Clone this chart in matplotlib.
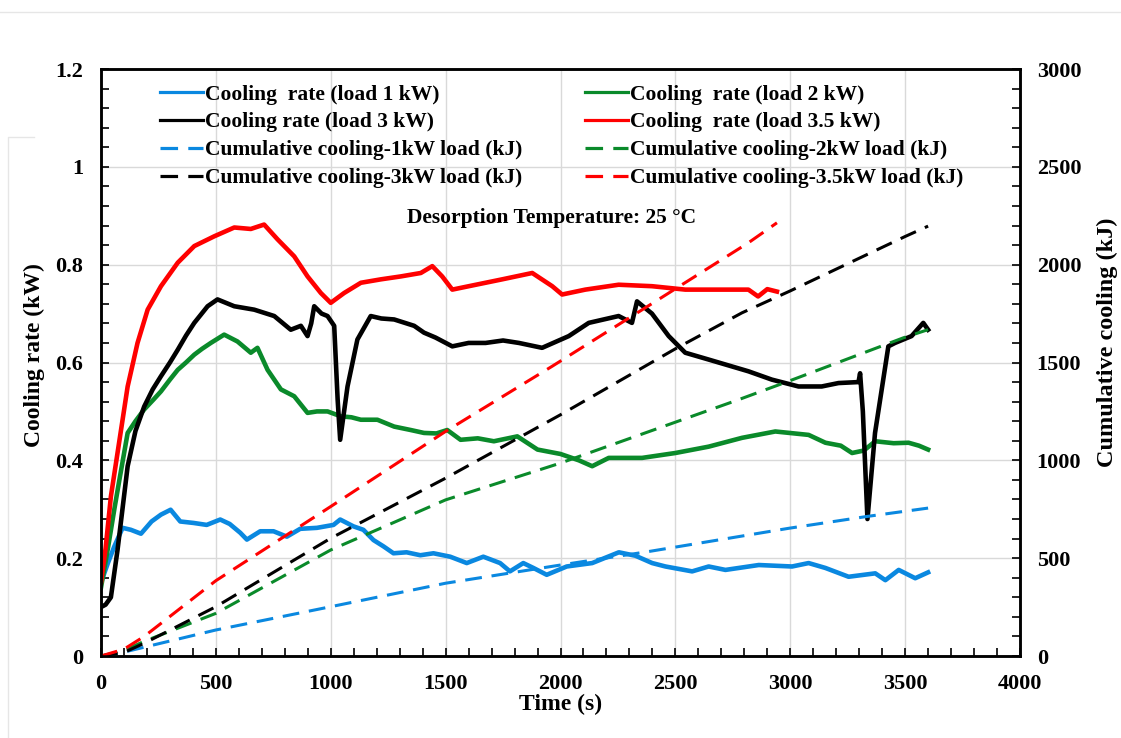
import numpy as np
import matplotlib
matplotlib.use("Agg")
import matplotlib.pyplot as plt
from matplotlib.ticker import MultipleLocator, FormatStrFormatter
from matplotlib.lines import Line2D

plt.rcParams['font.family'] = ['Liberation Serif', 'DejaVu Serif']
plt.rcParams['font.weight'] = 'bold'

# cooling rate, load 1 kW (time s, kW)
t_1kw = [0, 30, 58, 94, 130, 174, 220, 261, 303, 345, 403, 460, 519, 560, 606, 635, 693,
         751, 809, 867, 940, 1012, 1041, 1099, 1142, 1186, 1230, 1273, 1330, 1390, 1447,
         1520, 1592, 1664, 1737, 1780, 1838, 1882, 1940, 2027, 2138, 2254, 2326, 2399,
         2457, 2573, 2645, 2718, 2863, 3008, 3080, 3153, 3254, 3370, 3414, 3472, 3544, 3600]
q_1kw = [0.15, 0.19, 0.224, 0.262, 0.258, 0.25, 0.275, 0.289, 0.299, 0.275, 0.272, 0.268,
         0.279, 0.27, 0.252, 0.238, 0.255, 0.255, 0.244, 0.26, 0.262, 0.268, 0.279, 0.265,
         0.258, 0.237, 0.224, 0.21, 0.212, 0.206, 0.21, 0.203, 0.19, 0.203, 0.19, 0.173,
         0.19, 0.18, 0.166, 0.183, 0.19, 0.212, 0.205, 0.19, 0.183, 0.173, 0.183, 0.176,
         0.186, 0.183, 0.19, 0.18, 0.162, 0.169, 0.155, 0.176, 0.159, 0.171]

# cooling rate, load 2 kW
t_2kw = [0, 30, 58, 80, 116, 150, 188, 230, 261, 300, 334, 370, 406, 440, 478, 536, 594,
         652, 681, 725, 783, 841, 899, 940, 986, 1044, 1090, 1131, 1203, 1276, 1348, 1406,
         1460, 1507, 1565, 1640, 1710, 1812, 1900, 2000, 2080, 2138, 2210, 2355, 2500,
         2645, 2790, 2935, 3080, 3153, 3220, 3269, 3320, 3370, 3450, 3515, 3560, 3600]
q_2kw = [0.14, 0.22, 0.30, 0.36, 0.456, 0.48, 0.504, 0.525, 0.541, 0.565, 0.585, 0.60,
         0.616, 0.628, 0.64, 0.657, 0.643, 0.62, 0.63, 0.585, 0.545, 0.531, 0.497, 0.50,
         0.50, 0.49, 0.488, 0.483, 0.483, 0.469, 0.462, 0.456, 0.455, 0.462, 0.442, 0.445,
         0.439, 0.449, 0.422, 0.413, 0.40, 0.388, 0.405, 0.405, 0.415, 0.428, 0.446, 0.459,
         0.452, 0.436, 0.43, 0.415, 0.42, 0.439, 0.435, 0.436, 0.43, 0.422]

# cooling rate, load 3 kW
t_3kw = [0, 20, 43, 72, 116, 150, 188, 225, 261, 300, 334, 370, 406, 464, 507, 580, 667,
         754, 826, 870, 899, 915, 928, 960, 986, 1015, 1030, 1041, 1073, 1116, 1174, 1220,
         1276, 1363, 1406, 1456, 1529, 1600, 1674, 1750, 1819, 1920, 2036, 2123, 2253,
         2311, 2333, 2398, 2471, 2543, 2645, 2746, 2818, 2920, 3036, 3137, 3210, 3297,
         3304, 3316, 3336, 3369, 3427, 3456, 3528, 3579, 3600]
q_3kw = [0.10, 0.105, 0.12, 0.217, 0.388, 0.46, 0.51, 0.545, 0.572, 0.60, 0.626, 0.655,
         0.681, 0.715, 0.729, 0.715, 0.708, 0.695, 0.667, 0.675, 0.654, 0.68, 0.715, 0.70,
         0.695, 0.675, 0.524, 0.442, 0.551, 0.647, 0.695, 0.69, 0.688, 0.675, 0.661, 0.651,
         0.633, 0.64, 0.64, 0.645, 0.64, 0.63, 0.654, 0.681, 0.695, 0.681, 0.725, 0.70,
         0.654, 0.62, 0.606, 0.592, 0.582, 0.565, 0.551, 0.551, 0.558, 0.56, 0.578, 0.50,
         0.28, 0.456, 0.633, 0.64, 0.654, 0.681, 0.667]

# cooling rate, load 3.5 kW
t_35kw = [0, 20, 43, 80, 116, 159, 203, 261, 334, 406, 493, 580, 652, 710, 768, 841, 899,
          957, 1000, 1058, 1131, 1218, 1305, 1392, 1442, 1485, 1529, 1601, 1746, 1877,
          1964, 2007, 2108, 2253, 2398, 2543, 2688, 2818, 2860, 2900, 2942]
q_35kw = [0.15, 0.22, 0.326, 0.44, 0.551, 0.64, 0.708, 0.756, 0.804, 0.838, 0.858, 0.876,
          0.873, 0.882, 0.852, 0.817, 0.776, 0.742, 0.722, 0.742, 0.763, 0.77, 0.776,
          0.783, 0.797, 0.776, 0.749, 0.756, 0.77, 0.783, 0.756, 0.739, 0.749, 0.759,
          0.756, 0.749, 0.749, 0.749, 0.735, 0.75, 0.745]

# cumulative cooling (time s, kJ)
tc_1kw = [0, 100, 188, 500, 1000, 1500, 2000, 2384, 2995, 3333, 3600]
qc_1kw = [0, 20, 45, 133, 252, 372, 465, 534, 653, 713, 756]
tc_2kw = [0, 100, 188, 500, 1000, 1500, 2000, 2775, 2992, 3492, 3600]
qc_2kw = [0, 28, 75, 218, 542, 798, 986, 1310, 1404, 1626, 1668]
tc_3kw = [0, 100, 188, 500, 1000, 1500, 2000, 2500, 2790, 3000, 3500, 3600]
qc_3kw = [0, 18, 65, 252, 602, 909, 1233, 1570, 1754, 1866, 2144, 2197]
tc_35kw = [0, 100, 188, 500, 1000, 1500, 1964, 2398, 2818, 2942]
qc_35kw = [0, 35, 100, 385, 764, 1148, 1481, 1801, 2112, 2214]

c_blue = '#0A88E0'
c_green = '#0A8A2A'
c_black = '#000000'
c_red = '#FF0000'

fig = plt.figure(figsize=(11.21, 7.38), dpi=100)
ax = fig.add_axes([0.0901, 0.1111, 0.8198, 0.7954])
ax2 = ax.twinx()

lw = 3.3
h1, = ax.plot(t_1kw, q_1kw, color=c_blue, lw=lw, label='Cooling  rate (load 1 kW)')
h2, = ax.plot(t_2kw, q_2kw, color=c_green, lw=lw, label='Cooling  rate (load 2 kW)')
h3, = ax.plot(t_3kw, q_3kw, color=c_black, lw=lw, label='Cooling rate (load 3 kW)')
h4, = ax.plot(t_35kw, q_35kw, color=c_red, lw=lw, label='Cooling  rate (load 3.5 kW)')

dash = (5.5, 3.2)
d1, = ax2.plot(tc_1kw, qc_1kw, color=c_blue, lw=2.2, dashes=dash,
               label='Cumulative cooling-1kW load (kJ)')
d2, = ax2.plot(tc_2kw, qc_2kw, color=c_green, lw=2.2, dashes=dash,
               label='Cumulative cooling-2kW load (kJ)')
d3, = ax2.plot(tc_3kw, qc_3kw, color=c_black, lw=2.2, dashes=dash,
               label='Cumulative cooling-3kW load (kJ)')
d4, = ax2.plot(tc_35kw, qc_35kw, color=c_red, lw=2.2, dashes=dash,
               label='Cumulative cooling-3.5kW load (kJ)')

ax.set_xlim(0, 4000)
ax.set_ylim(0, 1.2)
ax2.set_ylim(0, 3000)

ax.xaxis.set_major_locator(MultipleLocator(500))
ax.xaxis.set_minor_locator(MultipleLocator(100))
ax.yaxis.set_major_locator(MultipleLocator(0.2))
ax.yaxis.set_minor_locator(MultipleLocator(0.04))
ax.yaxis.set_major_formatter(FormatStrFormatter('%g'))
ax2.yaxis.set_major_locator(MultipleLocator(500))
ax2.yaxis.set_minor_locator(MultipleLocator(100))

ax.grid(True, which='major', color='#d9d9d9', lw=1.0)
ax.set_axisbelow(True)

for a in (ax, ax2):
    a.tick_params(which='both', direction='in', width=1.2, labelsize=16)
    a.tick_params(which='major', length=6)
    a.tick_params(which='minor', length=6)
    for s in a.spines.values():
        s.set_linewidth(1.8)
ax.tick_params(axis='x', pad=13)
ax.tick_params(axis='y', pad=13)
ax2.tick_params(axis='y', pad=12)

ax.set_xlabel('Time (s)', fontsize=17, fontweight='bold', labelpad=0)
ax.set_ylabel('Cooling rate (kW)', fontsize=17, fontweight='bold')
ax2.set_ylabel('Cumulative cooling (kJ)', fontsize=17.5, fontweight='bold')
ax.yaxis.set_label_coords(-0.061, 0.513)
ax2.yaxis.set_label_coords(1.084, 0.535)

ax.text(0.49, 0.746, 'Desorption Temperature: 25 °C', transform=ax.transAxes,
        ha='center', va='center', fontsize=15.5, fontweight='bold')

handles = [h1, h3, d1, d3, h2, h4, d2, d4]
leg = ax2.legend(handles, [h.get_label() for h in handles], ncol=2, frameon=False,
                 loc='upper left', bbox_to_anchor=(0.133, 0.9),
                 bbox_transform=fig.transFigure, fontsize=15.5,
                 handlelength=2.0, handletextpad=0.1, labelspacing=0.36,
                 columnspacing=2.9, borderpad=0)
for txt in leg.get_texts():
    txt.set_fontweight('bold')
for ln in leg.get_lines():
    ln.set_linewidth(2.3)

# thin frame lines around the figure
fig.add_artist(Line2D([0, 1], [0.984, 0.984], transform=fig.transFigure,
                      color='#e6e6e6', lw=1))
fig.add_artist(Line2D([0.007, 0.007, 0.03], [0.0, 0.814, 0.814],
                      transform=fig.transFigure, color='#e6e6e6', lw=1))

fig.savefig('out.png', dpi=100)
